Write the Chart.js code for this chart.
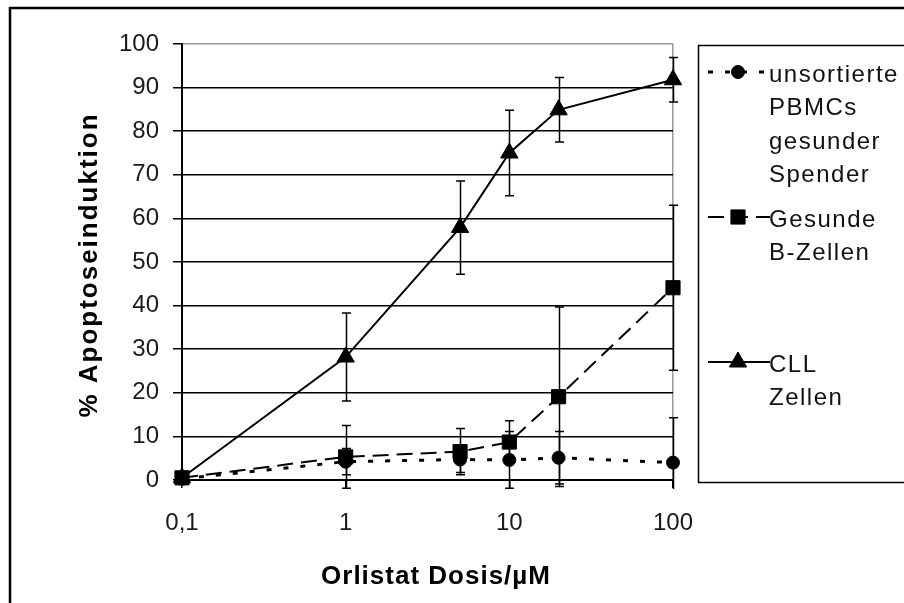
<!DOCTYPE html>
<html>
<head>
<meta charset="utf-8">
<script src="https://cdn.jsdelivr.net/npm/chart.js@4.4.0/dist/chart.umd.min.js"></script>
<style>
  html, body { margin: 0; padding: 0; background: #fff; }
  canvas { display: block; }
</style>
</head>
<body>
<canvas id="myChart" width="904" height="603"></canvas>
<script>
// doses in µM (log axis)
const doses = [0.1, 1, 5, 10, 20, 100];
const xTicks = [0.1, 1, 10, 100];
const xTickLabels = ["0,1", "1", "10", "100"];

const pbmcValues = [0.3, 4.2, 4.7, 4.6, 5.1, 4.0];
const pbmcErrors = [0, 3, 3, 6.5, 6.0, 10.3];
const bcellValues = [0.5, 5.3, 6.5, 8.7, 19.1, 44.1];
const bcellErrors = [0, 7.2, 5.3, 4.9, 20.6, 18.9];
const cllValues = [0.5, 28.2, 57.9, 75.0, 84.9, 91.8];
const cllErrors = [0, 10.1, 10.7, 9.8, 7.4, 5.1];

const legendLines = [
    ["unsortierte", "PBMCs", "gesunder", "Spender"],
    ["Gesunde", "B-Zellen"],
    ["CLL", "Zellen"],
];
const xTitle = "Orlistat Dosis/µM";
const yTitle = "% Apoptoseinduktion";

const FONT = '"Liberation Sans", Arial, sans-serif';
Chart.defaults.font.family = FONT;
Chart.defaults.color = "#1a1a1a";

const toPoints = (vals) => doses.map((d, i) => ({ x: d, y: vals[i] }));

const seriesStyles = [
    { dash: [5, 12], width: 3, pointStyle: "circle", radius: 6.5 },
    { dash: [16, 8], width: 2, pointStyle: "rect", radius: 10 },
    { dash: [], width: 2, pointStyle: "triangle", radius: 10 },
];

const errorSets = [
    [pbmcValues, pbmcErrors],
    [bcellValues, bcellErrors],
    [cllValues, cllErrors],
];

const errorBars = {
    id: "errorBars",
    afterDatasetsDraw(chart) {
        const { ctx, chartArea } = chart;
        const x = chart.scales.x;
        const y = chart.scales.y;
        ctx.save();
        ctx.beginPath();
        ctx.rect(chartArea.left - 20, chartArea.top - 20, chartArea.width + 40, chartArea.height + 29);
        ctx.clip();
        ctx.strokeStyle = "#000";
        ctx.lineWidth = 1.5;
        ctx.setLineDash([]);
        errorSets.forEach(([vals, errs]) => {
            vals.forEach((v, i) => {
                if (!errs[i]) return;
                const px = Math.round(x.getPixelForValue(doses[i])) + 0.5;
                const top = y.getPixelForValue(v + errs[i]);
                const bot = y.getPixelForValue(v - errs[i]);
                ctx.beginPath();
                ctx.moveTo(px, top);
                ctx.lineTo(px, bot);
                ctx.moveTo(px - 4.5, top);
                ctx.lineTo(px + 4.5, top);
                ctx.moveTo(px - 4.5, bot);
                ctx.lineTo(px + 4.5, bot);
                ctx.stroke();
            });
        });
        ctx.restore();
    },
};

const decor = {
    id: "decor",
    beforeDraw(chart) {
        const ctx = chart.ctx;
        ctx.save();
        ctx.fillStyle = "#fff";
        ctx.fillRect(0, 0, chart.width, chart.height);
        // outer frame (cut off at right and bottom)
        ctx.strokeStyle = "#000";
        ctx.lineWidth = 2.5;
        ctx.beginPath();
        ctx.moveTo(10, 603);
        ctx.lineTo(10, 8);
        ctx.lineTo(904, 8);
        ctx.stroke();
        ctx.restore();
    },
    afterDraw(chart) {
        const ctx = chart.ctx;
        ctx.save();
        ctx.fillStyle = "#000";
        ctx.font = "bold 26px " + FONT;
        ctx.textAlign = "center";
        ctx.textBaseline = "alphabetic";
        ctx.letterSpacing = "1px";
        ctx.fillText(xTitle, 436, 584);
        ctx.letterSpacing = "2px";
        ctx.translate(97, 265);
        ctx.rotate(-Math.PI / 2);
        ctx.fillText(yTitle, 0, 0);
        ctx.restore();

        // legend box
        ctx.save();
        ctx.strokeStyle = "#000";
        ctx.lineWidth = 1.5;
        ctx.strokeRect(698.5, 45.5, 260, 437);
        const markerY = [72, 217, 362];
        ctx.font = "24px " + FONT;
        ctx.letterSpacing = "1.5px";
        ctx.textAlign = "left";
        ctx.textBaseline = "alphabetic";
        legendLines.forEach((lines, k) => {
            const st = seriesStyles[k];
            const my = markerY[k];
            ctx.strokeStyle = "#000";
            ctx.fillStyle = "#000";
            ctx.lineWidth = st.width;
            ctx.setLineDash(st.dash);
            ctx.beginPath();
            ctx.moveTo(708, my);
            ctx.lineTo(770, my);
            ctx.stroke();
            ctx.setLineDash([]);
            ctx.lineWidth = 1;
            Chart.helpers.drawPoint(ctx, { pointStyle: st.pointStyle, radius: st.radius, borderWidth: 1, rotation: 0 }, 738, my);
            ctx.fillStyle = "#111";
            lines.forEach((t, j) => ctx.fillText(t, 769, my + 10 + j * 33.3));
        });
        ctx.restore();
    },
};

const ctx = document.getElementById("myChart");

new Chart(ctx, {
    type: "line",
    data: {
        datasets: [
            { label: legendLines[0].join(" "), data: toPoints(pbmcValues) },
            { label: legendLines[1].join(" "), data: toPoints(bcellValues) },
            { label: legendLines[2].join(" "), data: toPoints(cllValues) },
        ].map((ds, k) => ({
            ...ds,
            borderColor: "#000",
            backgroundColor: "#000",
            borderWidth: seriesStyles[k].width,
            borderDash: seriesStyles[k].dash,
            pointStyle: seriesStyles[k].pointStyle,
            pointRadius: seriesStyles[k].radius,
            pointBorderColor: "#000",
            pointBackgroundColor: "#000",
            pointBorderWidth: 1,
            tension: 0,
            clip: false,
        })),
    },
    options: {
        responsive: false,
        animation: false,
        layout: { padding: { left: 100, top: 44, right: 231, bottom: 0 } },
        plugins: {
            legend: { display: false },
            tooltip: { enabled: false },
        },
        scales: {
            x: {
                type: "logarithmic",
                min: 0.1,
                max: 100,
                afterBuildTicks: (axis) => {
                    axis.ticks = xTicks.map((v) => ({ value: v }));
                },
                afterFit: (axis) => {
                    axis.height = 123;
                },
                ticks: {
                    callback: (v, i) => xTickLabels[i],
                    font: { size: 24 },
                    color: "#1a1a1a",
                    padding: 21,
                    maxRotation: 0,
                    autoSkip: false,
                },
                grid: {
                    color: (c) => (c.tick && c.tick.value === 100 ? "#999" : "rgba(0,0,0,0)"),
                    tickColor: "#000",
                    tickLength: 8,
                    lineWidth: 1.5,
                },
                border: { display: true, color: "#000", width: 2 },
            },
            y: {
                min: 0,
                max: 100,
                afterFit: (axis) => {
                    axis.width = 82;
                },
                ticks: {
                    stepSize: 10,
                    font: { size: 24 },
                    color: "#1a1a1a",
                    padding: 14,
                },
                grid: {
                    color: (c) => (c.tick && c.tick.value === 100 ? "#999" : "#000"),
                    tickColor: "#000",
                    tickLength: 9,
                    lineWidth: 1.5,
                },
                border: { display: true, color: "#000", width: 2 },
            },
        },
    },
    plugins: [decor, errorBars],
});
</script>
</body>
</html>
